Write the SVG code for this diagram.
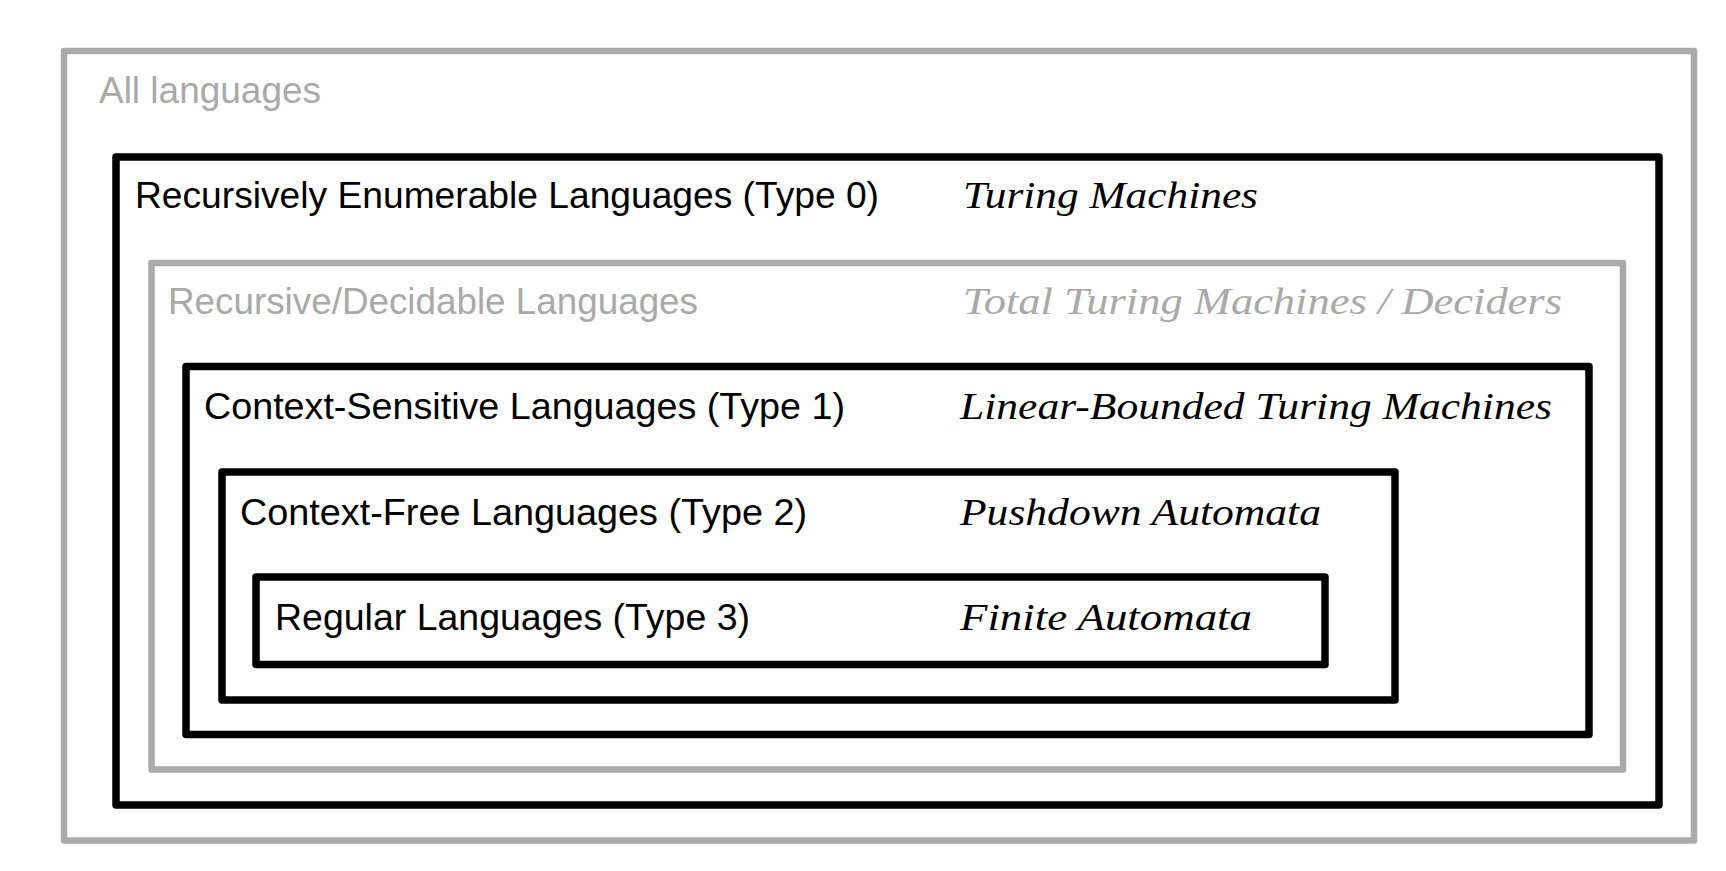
<svg xmlns="http://www.w3.org/2000/svg" width="1726" height="871" viewBox="0 0 1726 871">
  <style>
    .box { fill: none; stroke-linejoin: round; }
    .dark { stroke: #000000; stroke-width: 7.5; }
    .light { stroke: #aaaaaa; stroke-width: 6.5; }
    .name { font-family: "Liberation Sans", Arial, sans-serif; font-size: 37px; }
    .machine { font-family: "Liberation Serif", "Times New Roman", serif; font-style: italic; font-size: 38px; }
    .ink { fill: #000000; }
    .faded { fill: #a9a9a9; }
  </style>
  <rect width="1726" height="871" fill="#ffffff"/>

  <!-- The language hierarchy, drawn as nested boxes from outermost to innermost -->
  <g id="all-languages">
    <rect class="box light" x="64" y="51" width="1630" height="789.5"/>
    <text class="name faded" x="99" y="103" textLength="222" lengthAdjust="spacingAndGlyphs">All languages</text>
  </g>

  <g id="type0">
    <rect class="box dark" x="116" y="157" width="1543" height="648"/>
    <text class="name ink" x="135" y="208" textLength="744" lengthAdjust="spacingAndGlyphs">Recursively Enumerable Languages (Type 0)</text>
    <text class="machine ink" x="963" y="207.5" textLength="295" lengthAdjust="spacingAndGlyphs">Turing Machines</text>
  </g>

  <g id="decidable">
    <rect class="box light" x="151.5" y="263" width="1471.5" height="506.5"/>
    <text class="name faded" x="168" y="313.5" textLength="530" lengthAdjust="spacingAndGlyphs">Recursive/Decidable Languages</text>
    <text class="machine faded" x="963" y="313.5" textLength="599" lengthAdjust="spacingAndGlyphs">Total Turing Machines / Deciders</text>
  </g>

  <g id="type1">
    <rect class="box dark" x="186" y="366.5" width="1403" height="368"/>
    <text class="name ink" x="204" y="419" textLength="641" lengthAdjust="spacingAndGlyphs">Context-Sensitive Languages (Type 1)</text>
    <text class="machine ink" x="960" y="419" textLength="592" lengthAdjust="spacingAndGlyphs">Linear-Bounded Turing Machines</text>
  </g>

  <g id="type2">
    <rect class="box dark" x="222" y="472" width="1173" height="228"/>
    <text class="name ink" x="240" y="524.5" textLength="567" lengthAdjust="spacingAndGlyphs">Context-Free Languages (Type 2)</text>
    <text class="machine ink" x="960" y="524.5" textLength="361" lengthAdjust="spacingAndGlyphs">Pushdown Automata</text>
  </g>

  <g id="type3">
    <rect class="box dark" x="256" y="577" width="1069" height="87.5"/>
    <text class="name ink" x="275" y="630" textLength="475" lengthAdjust="spacingAndGlyphs">Regular Languages (Type 3)</text>
    <text class="machine ink" x="960" y="630" textLength="292" lengthAdjust="spacingAndGlyphs">Finite Automata</text>
  </g>

  <!-- containment is shown by nesting alone; there are no connectors -->
  <g id="connectors"/>
</svg>
